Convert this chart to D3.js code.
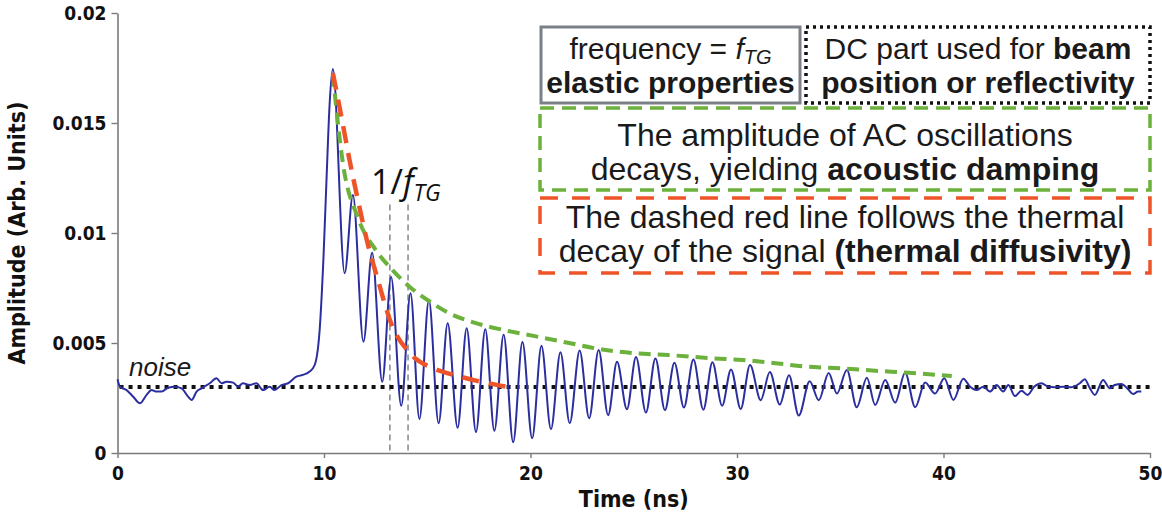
<!DOCTYPE html>
<html>
<head>
<meta charset="utf-8">
<script src="https://cdn.jsdelivr.net/npm/d3@7"></script>
<style>
  body { margin: 0; background: #fff; }
  svg { display: block; }
</style>
</head>
<body>
<svg id="chart" width="1162" height="520"></svg>
<script>
// axis ticks
const xTicks = [0, 10, 20, 30, 40, 50];
const yTicks = [0, 0.005, 0.01, 0.015, 0.02];
const yTickLabels = ['0', '0.005', '0.01', '0.015', '0.02'];

// signal: [time ns, amplitude]
// baseline before the pulse + the rising edge
const preSignal = [
  [0.00, 0.00335], [0.12, 0.00301], [0.44, 0.00286], [0.76, 0.00256], [1.09, 0.00226],
  [1.41, 0.00264], [1.65, 0.00286], [1.89, 0.00279], [2.14, 0.00279], [2.46, 0.00297],
  [2.78, 0.00301], [3.10, 0.00294], [3.42, 0.00256], [3.59, 0.00241], [3.83, 0.00279],
  [4.07, 0.00294], [4.47, 0.00317], [4.79, 0.00340], [5.04, 0.00317], [5.28, 0.00324],
  [5.60, 0.00320], [5.84, 0.00301], [6.07, 0.00317], [6.40, 0.00309], [6.73, 0.00317],
  [7.05, 0.00286], [7.37, 0.00301], [7.61, 0.00286], [7.94, 0.00309], [8.26, 0.00317],
  [8.66, 0.00347], [8.98, 0.00355], [9.30, 0.00370], [9.55, 0.00400], [9.79, 0.00560],
  [9.98, 0.00900], [10.13, 0.01264], [10.27, 0.01582]
];
// oscillation maxima
const peaks = [
  [10.43, 0.01745], [11.40, 0.01173], [12.33, 0.00910], [13.25, 0.00800], [14.19, 0.00726],
  [15.08, 0.00695], [15.99, 0.00590], [16.91, 0.00567], [17.81, 0.00562], [18.70, 0.00538],
  [19.61, 0.00504], [20.53, 0.00487], [21.45, 0.00458], [22.38, 0.00466], [23.30, 0.00468],
  [24.19, 0.00415], [25.11, 0.00436], [26.05, 0.00430], [26.97, 0.00410], [27.89, 0.00425],
  [28.81, 0.00412], [29.71, 0.00380], [30.63, 0.00400], [31.59, 0.00368], [32.52, 0.00353],
  [33.52, 0.00326], [34.44, 0.00364], [35.32, 0.00377], [36.29, 0.00342], [37.18, 0.00332],
  [38.14, 0.00365], [39.11, 0.00321], [40.04, 0.00340], [40.96, 0.00338]
];
// oscillation minima
const troughs = [
  [11.00, 0.00817], [11.91, 0.00506], [12.82, 0.00324], [13.74, 0.00215], [14.62, 0.00155],
  [15.55, 0.00135], [16.47, 0.00115], [17.36, 0.00095], [18.25, 0.00101], [19.16, 0.00049],
  [20.08, 0.00067], [20.99, 0.00108], [21.90, 0.00135], [22.84, 0.00158], [23.76, 0.00172],
  [24.67, 0.00199], [25.59, 0.00184], [26.51, 0.00195], [27.43, 0.00207], [28.37, 0.00197],
  [29.28, 0.00215], [30.18, 0.00200], [31.15, 0.00240], [32.07, 0.00220], [32.99, 0.00170],
  [33.96, 0.00240], [34.84, 0.00270], [35.80, 0.00208], [36.69, 0.00218], [37.66, 0.00229],
  [38.63, 0.00208], [39.59, 0.00270], [40.48, 0.00241]
];
// noise after the oscillations die out
const tailSignal = [
  [41.29, 0.00301], [41.60, 0.00286], [41.93, 0.00301], [42.25, 0.00279], [42.57, 0.00309],
  [42.89, 0.00279], [43.14, 0.00309], [43.46, 0.00259], [43.78, 0.00283], [44.07, 0.00264],
  [44.39, 0.00301], [44.75, 0.00317], [45.07, 0.00301], [45.39, 0.00299], [45.79, 0.00301],
  [46.20, 0.00299], [46.60, 0.00317], [46.84, 0.00335], [47.09, 0.00294], [47.33, 0.00264],
  [47.73, 0.00332], [48.05, 0.00294], [48.29, 0.00309], [48.61, 0.00314], [48.94, 0.00290],
  [49.18, 0.00268], [49.42, 0.00279], [49.58, 0.00279]
];

// green envelope (acoustic damping)
const acousticEnvelope = [
  [10.43, 0.01720], [10.91, 0.01320], [11.64, 0.01070], [12.53, 0.00920], [13.33, 0.00830],
  [14.14, 0.00756], [15.10, 0.00690], [16.07, 0.00635], [17.36, 0.00590], [18.65, 0.00560],
  [20.26, 0.00530], [21.87, 0.00500], [23.48, 0.00470], [25.09, 0.00453], [26.70, 0.00445],
  [28.88, 0.00430], [30.25, 0.00423], [31.86, 0.00408], [33.47, 0.00392], [35.08, 0.00385],
  [36.69, 0.00374], [38.30, 0.00365], [40.40, 0.00350]
];
// red thermal decay
const thermalDecay = [
  [10.43, 0.01726], [10.84, 0.01530], [11.24, 0.01330], [11.64, 0.01150], [12.12, 0.00950],
  [12.60, 0.00790], [13.25, 0.00590], [14.20, 0.00450], [15.30, 0.00385], [16.40, 0.00352],
  [17.40, 0.00328], [18.80, 0.00302]
];

const noiseLevel = 0.003;
const noiseSpan = [0.1, 50];
const periodMarks = [13.19, 14.07];
const periodMarkTop = 0.0113;

const svg = d3.select('#chart');
const margin = { top: 13, right: 12, bottom: 67, left: 117.5 };
const width = 1162, height = 520;

const x = d3.scaleLinear().domain([0, 50]).range([margin.left, width - margin.right]);
const y = d3.scaleLinear().domain([0, 0.02]).range([height - margin.bottom, margin.top]);

const axisColor = '#7a7a7a';
const tickFont = '"DejaVu Sans Condensed", "DejaVu Sans", sans-serif';

// x axis
const gx = svg.append('g')
  .attr('transform', `translate(0, ${y(0)})`)
  .call(d3.axisBottom(x).tickValues(xTicks).tickSize(5).tickSizeOuter(0).tickFormat(d3.format('d')));
// y axis
const gy = svg.append('g')
  .attr('transform', `translate(${x(0)}, 0)`)
  .call(d3.axisLeft(y).tickValues(yTicks).tickSize(6).tickSizeOuter(0)
    .tickFormat((d, i) => yTickLabels[i]));

[gx, gy].forEach(g => {
  g.select('.domain').attr('stroke', axisColor).attr('stroke-width', 1.6);
  g.selectAll('.tick line').attr('stroke', axisColor).attr('stroke-width', 1.4);
  g.selectAll('.tick text')
    .attr('fill', '#111')
    .style('font-family', tickFont)
    .style('font-weight', 'bold')
    .style('font-size', '19px');
});
gx.selectAll('.tick text').attr('dy', '1.0em');
gy.selectAll('.tick text').attr('x', -11).attr('dy', '0.36em');

// axis titles
svg.append('text')
  .attr('x', (x(0) + x(50)) / 2)
  .attr('y', 507)
  .attr('text-anchor', 'middle')
  .style('font-family', tickFont)
  .style('font-weight', 'bold')
  .style('font-size', '23px')
  .attr('fill', '#111')
  .text('Time (ns)');

svg.append('text')
  .attr('transform', `translate(25, ${(y(0) + y(0.02)) / 2}) rotate(-90)`)
  .attr('text-anchor', 'middle')
  .style('font-family', tickFont)
  .style('font-weight', 'bold')
  .style('font-size', '23px')
  .attr('fill', '#111')
  .text('Amplitude (Arb. Units)');

const line = d3.line().x(d => x(d[0])).y(d => y(d[1]));

// period markers
svg.selectAll('.period')
  .data(periodMarks)
  .enter().append('line')
  .attr('x1', d => x(d)).attr('x2', d => x(d))
  .attr('y1', y(periodMarkTop)).attr('y2', y(0))
  .attr('stroke', '#8a8f96')
  .attr('stroke-width', 1.6)
  .attr('stroke-dasharray', '6,4');

// noise level dotted line
svg.append('line')
  .attr('x1', x(noiseSpan[0])).attr('x2', x(noiseSpan[1]))
  .attr('y1', y(noiseLevel)).attr('y2', y(noiseLevel))
  .attr('stroke', '#111')
  .attr('stroke-width', 4)
  .attr('stroke-dasharray', '4,5');

// signal
const signal = [...preSignal, ...peaks, ...troughs, ...tailSignal].sort((a, b) => a[0] - b[0]);
svg.append('path')
  .datum(signal)
  .attr('fill', 'none')
  .attr('stroke', '#2b2e9e')
  .attr('stroke-width', 2)
  .attr('d', line.curve(d3.curveMonotoneX));

// envelopes
svg.append('path')
  .datum(acousticEnvelope)
  .attr('fill', 'none')
  .attr('stroke', '#6bb13b')
  .attr('stroke-width', 4)
  .attr('stroke-dasharray', '12,7')
  .attr('d', d3.line().x(d => x(d[0])).y(d => y(d[1])).curve(d3.curveMonotoneX));

svg.append('path')
  .datum(thermalDecay)
  .attr('fill', 'none')
  .attr('stroke', '#ee5428')
  .attr('stroke-width', 4.5)
  .attr('stroke-dasharray', '17,10')
  .attr('d', d3.line().x(d => x(d[0])).y(d => y(d[1])).curve(d3.curveMonotoneX));

// annotations
const boxFont = '"Liberation Sans", Arial, sans-serif';
const boxes = [
  { x: 541, y: 27, w: 259, h: 76, stroke: '#7b8087', sw: 3, dash: null },
  { x: 806, y: 27, w: 344, h: 76, stroke: '#111', sw: 3.5, dash: '3,4' },
  { x: 540, y: 108, w: 610, h: 82, stroke: '#6bb13b', sw: 3.5, dash: '14,8' },
  { x: 540, y: 198, w: 610, h: 75, stroke: '#ee5428', sw: 3.5, dash: '18,14' }
];
svg.selectAll('.box')
  .data(boxes)
  .enter().append('rect')
  .attr('x', d => d.x).attr('y', d => d.y)
  .attr('width', d => d.w).attr('height', d => d.h)
  .attr('fill', '#fff')
  .attr('stroke', d => d.stroke)
  .attr('stroke-width', d => d.sw)
  .attr('stroke-dasharray', d => d.dash);

// each line: [cx, baseline, font size, [[text, weight, style, sub]...]]
const boxLines = [
  [670.5, 59, 30, [['frequency = ', 'normal', 'normal'], ['f', 'normal', 'italic'], ['TG', 'normal', 'italic', true]]],
  [670.5, 93, 30, [['elastic properties', 'bold', 'normal']]],
  [978, 59, 30, [['DC part used for ', 'normal', 'normal'], ['beam', 'bold', 'normal']]],
  [978, 93, 30, [['position or reflectivity', 'bold', 'normal']]],
  [845, 146, 32, [['The amplitude of AC oscillations', 'normal', 'normal']]],
  [845, 180, 32, [['decays, yielding ', 'normal', 'normal'], ['acoustic damping', 'bold', 'normal']]],
  [845, 228, 32, [['The dashed red line follows the thermal', 'normal', 'normal']]],
  [845, 262, 32, [['decay of the signal ', 'normal', 'normal'], ['(thermal diffusivity)', 'bold', 'normal']]]
];
boxLines.forEach(([cx, by, fs, parts]) => {
  const t = svg.append('text')
    .attr('x', cx).attr('y', by)
    .attr('text-anchor', 'middle')
    .style('font-family', boxFont)
    .style('font-size', fs + 'px')
    .attr('fill', '#1a1a1a');
  parts.forEach(p => {
    const ts = t.append('tspan')
      .style('font-weight', p[1])
      .style('font-style', p[2])
      .text(p[0]);
    if (p[3]) ts.attr('dy', 5).style('font-size', '20px');
  });
});

// noise label
svg.append('text')
  .attr('x', 129).attr('y', 376)
  .style('font-family', boxFont)
  .style('font-style', 'italic')
  .style('font-size', '26px')
  .attr('fill', '#1a1a1a')
  .text('noise');

// 1/f_TG label
const fLabel = svg.append('text')
  .attr('x', 371).attr('y', 194)
  .style('font-family', '"Open Sans", sans-serif')
  .style('font-size', '34px')
  .attr('fill', '#111');
fLabel.append('tspan').text('1/');
fLabel.append('tspan').style('font-style', 'italic').text('f');
fLabel.append('tspan').attr('dy', 7).style('font-style', 'italic').style('font-size', '23px').text('TG');
</script>
</body>
</html>
